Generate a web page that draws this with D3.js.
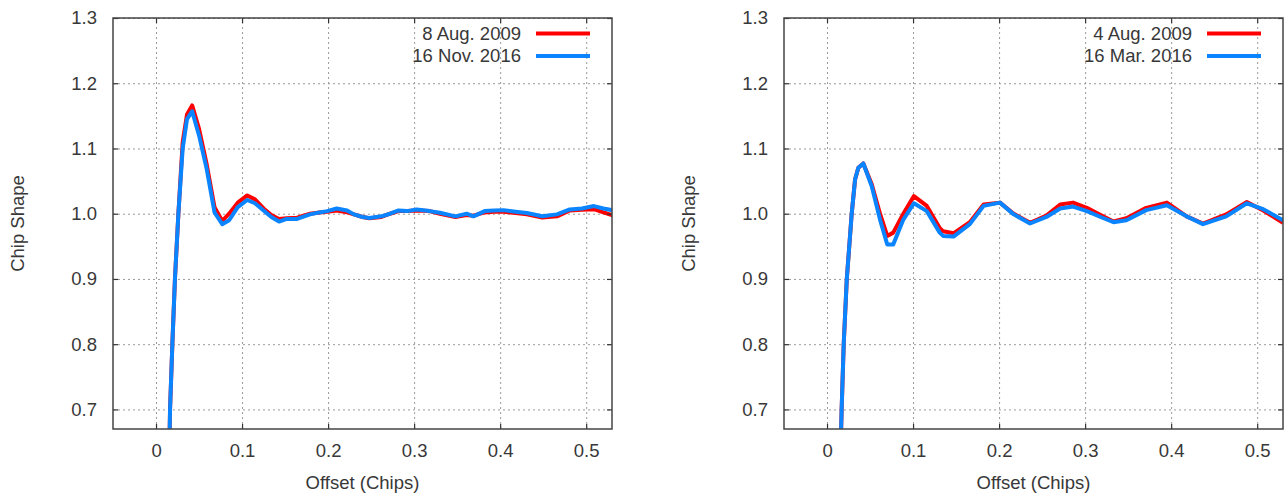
<!DOCTYPE html>
<html>
<head>
<meta charset="utf-8">
<script src="https://cdn.jsdelivr.net/npm/d3@7"></script>
<style>
  body { margin: 0; background: #fff; }
  svg { display: block; font-family: "Liberation Sans", Arial, sans-serif; }
  .tick text { fill: #383838; font-size: 18.5px; }
  .grid line { stroke: #9a9a9a; stroke-dasharray: 2,3; }
  .grid .domain { display: none; }
</style>
</head>
<body>
<svg id="chart" width="1285" height="493"></svg>
<script>
// axis settings shared by both panels
const xTicks = [0, 0.1, 0.2, 0.3, 0.4, 0.5];
const yTicks = [0.7, 0.8, 0.9, 1.0, 1.1, 1.2, 1.3];
const xDomain = [-0.05, 0.53];
const yDomain = [0.67, 1.3];
const xLabel = "Offset (Chips)";
const yLabel = "Chip Shape";

// left panel
const leftNames = ["8 Aug. 2009", "16 Nov. 2016"];
const leftX = [0.015, 0.0163, 0.019, 0.022, 0.026, 0.031, 0.036, 0.042, 0.050, 0.059, 0.068, 0.077,
  0.085, 0.095, 0.106, 0.115, 0.125, 0.134, 0.143, 0.152, 0.164, 0.179, 0.190, 0.199, 0.210, 0.222,
  0.230, 0.240, 0.248, 0.262, 0.272, 0.282, 0.292, 0.303, 0.318, 0.330, 0.348, 0.361, 0.369, 0.382,
  0.393, 0.404, 0.418, 0.431, 0.449, 0.466, 0.481, 0.495, 0.509, 0.520, 0.532];
const leftRed = [0.60, 0.70, 0.80, 0.90, 1.00, 1.11, 1.152, 1.166, 1.13, 1.075, 1.01, 0.989,
  1.0, 1.017, 1.028, 1.022, 1.008, 0.998, 0.992, 0.993, 0.994, 1.0, 1.002, 1.003, 1.005, 1.002,
  0.999, 0.995, 0.993, 0.995, 1.0, 1.004, 1.004, 1.005, 1.004, 1.0, 0.995, 0.998, 0.997, 1.002,
  1.003, 1.003, 1.001, 0.999, 0.994, 0.996, 1.005, 1.006, 1.007, 1.002, 0.997];
const leftBlue = [0.60, 0.70, 0.80, 0.90, 1.00, 1.10, 1.145, 1.157, 1.12, 1.068, 1.002, 0.984,
  0.99, 1.01, 1.021, 1.016, 1.005, 0.995, 0.988, 0.992, 0.992, 0.999, 1.002, 1.004, 1.008, 1.005,
  0.999, 0.995, 0.9935, 0.996, 1.0, 1.005, 1.004, 1.0066, 1.004, 1.0015, 0.996, 1.0, 0.996, 1.004,
  1.005, 1.0055, 1.003, 1.001, 0.996, 0.999, 1.0066, 1.008, 1.0117, 1.008, 1.005];

// right panel
const rightNames = ["4 Aug. 2009", "16 Mar. 2016"];
const rightX = [0.015, 0.017, 0.0194, 0.023, 0.0287, 0.0326, 0.0364, 0.0422, 0.052, 0.0616, 0.070,
  0.077, 0.0887, 0.101, 0.116, 0.131, 0.135, 0.147, 0.166, 0.182, 0.201, 0.217, 0.236, 0.255, 0.271,
  0.286, 0.302, 0.318, 0.333, 0.348, 0.371, 0.395, 0.418, 0.437, 0.464, 0.488, 0.507, 0.53];
const rightRed = [0.60, 0.70, 0.80, 0.90, 1.00, 1.0525, 1.0705, 1.077, 1.045, 1.0, 0.966,
  0.971, 1.0, 1.027, 1.012, 0.978, 0.973, 0.970, 0.987, 1.014, 1.017, 1.0, 0.986, 0.997, 1.014,
  1.017, 1.009, 0.998, 0.988, 0.993, 1.009, 1.017, 0.996, 0.985, 0.999, 1.018, 1.005, 0.986];
const rightBlue = [0.60, 0.70, 0.80, 0.90, 1.00, 1.0525, 1.0705, 1.077, 1.042, 0.991, 0.953,
  0.953, 0.991, 1.016, 1.004, 0.971, 0.966, 0.965, 0.984, 1.012, 1.017, 0.999, 0.985, 0.995, 1.008,
  1.011, 1.004, 0.995, 0.987, 0.990, 1.0055, 1.013, 0.996, 0.984, 0.996, 1.016, 1.007, 0.990];

const colors = ["#ff0000", "#0a84ff"];
const svg = d3.select("#chart");

function drawPanel(id, left, xs, series, names) {
  const top = 18, width = 499, height = 411;

  const x = d3.scaleLinear().domain(xDomain).range([0, width]);
  const y = d3.scaleLinear().domain(yDomain).range([height, 0]);

  const g = svg.append("g").attr("transform", `translate(${left},${top})`);

  // dotted grid
  g.append("g").attr("class", "grid")
    .attr("transform", `translate(0,${height})`)
    .call(d3.axisBottom(x).tickValues(xTicks).tickSize(-height).tickFormat(""));
  g.append("g").attr("class", "grid")
    .call(d3.axisLeft(y).tickValues(yTicks).tickSize(-width).tickFormat(""));

  // clip the curves to the frame
  g.append("clipPath").attr("id", "clip" + id)
    .append("rect").attr("width", width).attr("height", height);

  const line = d3.line().x(d => x(d[0])).y(d => y(d[1]));
  series.forEach((vals, i) => {
    g.append("path")
      .datum(xs.map((v, j) => [v, vals[j]]))
      .attr("clip-path", `url(#clip${id})`)
      .attr("fill", "none")
      .attr("stroke", colors[i])
      .attr("stroke-width", 4)
      .attr("stroke-linejoin", "round")
      .attr("d", line);
  });

  // inward ticks on all four sides, labels bottom and left
  const fmtX = d => d === 0 ? "0" : d3.format(".1f")(d);
  const axes = [
    [d3.axisBottom(x).tickValues(xTicks).tickFormat(fmtX).tickPadding(15), `translate(0,${height})`],
    [d3.axisTop(x).tickValues(xTicks).tickFormat(""), null],
    [d3.axisLeft(y).tickValues(yTicks).tickFormat(d3.format(".1f")).tickPadding(16), null],
    [d3.axisRight(y).tickValues(yTicks).tickFormat(""), `translate(${width},0)`]
  ];
  axes.forEach(([ax, tr]) => {
    const a = g.append("g").call(ax.tickSizeInner(-5).tickSizeOuter(0));
    if (tr) a.attr("transform", tr);
    a.select(".domain").remove();
    a.selectAll(".tick line").attr("stroke", "#333").attr("stroke-width", 1.2);
  });

  g.append("rect")
    .attr("width", width).attr("height", height)
    .attr("fill", "none").attr("stroke", "#444").attr("stroke-width", 1.5);

  // legend
  names.forEach((name, i) => {
    const ly = 15.5 + i * 22.4;
    g.append("text")
      .attr("x", width - 91).attr("y", ly).attr("dy", "0.35em")
      .attr("text-anchor", "end").attr("fill", "#383838").style("font-size", "18.5px")
      .text(name);
    g.append("line")
      .attr("x1", width - 76).attr("x2", width - 22)
      .attr("y1", ly).attr("y2", ly)
      .attr("stroke", colors[i]).attr("stroke-width", 4);
  });

  g.append("text")
    .attr("x", width / 2).attr("y", height + 60)
    .attr("text-anchor", "middle").attr("fill", "#383838").style("font-size", "18.5px")
    .text(xLabel);

  g.append("text")
    .attr("transform", `translate(-89,${height / 2}) rotate(-90)`)
    .attr("text-anchor", "middle").attr("fill", "#383838").style("font-size", "18.5px")
    .text(yLabel);
}

drawPanel("L", 113, leftX, [leftRed, leftBlue], leftNames);
drawPanel("R", 784, rightX, [rightRed, rightBlue], rightNames);
</script>
</body>
</html>
